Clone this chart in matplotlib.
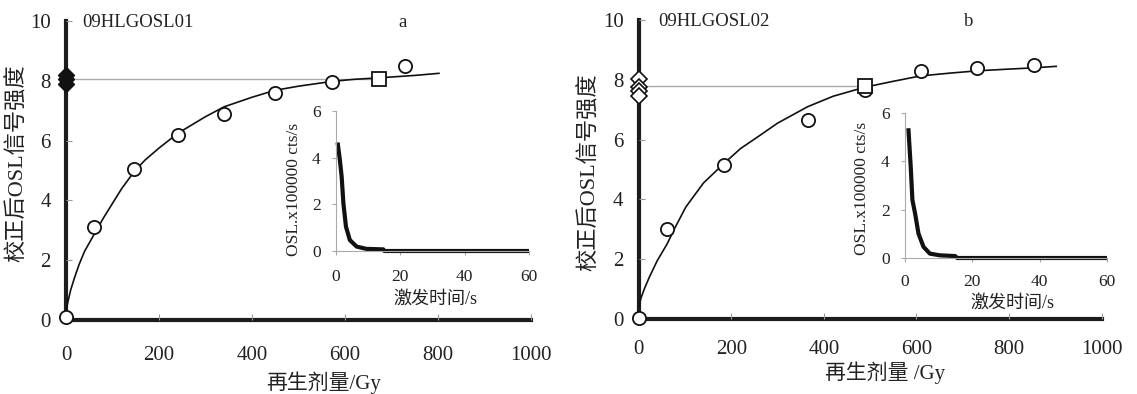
import numpy as np
import matplotlib
matplotlib.use('Agg')
import matplotlib.pyplot as plt

plt.rcParams['font.family'] = ['Liberation Serif', 'Noto Sans CJK SC']

# ---- panel a (09HLGOSL01) ----
a_dose = [0, 60, 146, 241, 340, 449, 572, 730]
a_sig = [0.1, 3.1, 5.05, 6.2, 6.9, 7.6, 7.95, 8.5]
a_nat_dose = 674
a_nat_sig = 8.06
a_nat_axis = [8.2, 8.05, 7.9]
a_fit_dose = [0, 4, 10, 18, 28, 40, 60, 80, 100, 120, 146, 170, 200, 241, 300, 340, 400, 449, 500, 572, 620, 674, 750, 802]
a_fit_sig = [0.3, 0.6, 1.0, 1.4, 1.85, 2.3, 2.85, 3.4, 3.9, 4.4, 4.95, 5.35, 5.75, 6.25, 6.8, 7.13, 7.45, 7.68, 7.82, 7.98, 8.05, 8.1, 8.18, 8.25]
a_decay_t = [0.5, 1.2, 1.76, 2.3, 3.1, 4.3, 6.4, 9.5, 14.7, 15.0, 30, 60]
a_decay_y = [4.65, 3.9, 3.18, 2.04, 1.04, 0.47, 0.19, 0.09, 0.07, 0.0, 0.0, 0.0]

# ---- panel b (09HLGOSL02) ----
b_dose = [0, 61, 184, 365, 488, 609, 731, 853]
b_sig = [0.05, 3.0, 5.15, 6.65, 7.65, 8.3, 8.4, 8.5]
b_nat_dose = 488
b_nat_sig = 7.78
b_nat_axis = [8.02, 7.75, 7.63, 7.45]
b_fit_dose = [0, 5, 12, 23, 40, 61, 80, 102, 140, 184, 220, 258, 300, 365, 420, 488, 550, 609, 670, 731, 790, 853, 902]
b_fit_sig = [0.4, 0.7, 1.0, 1.4, 1.95, 2.5, 3.1, 3.75, 4.55, 5.2, 5.7, 6.1, 6.55, 7.1, 7.45, 7.75, 7.95, 8.13, 8.22, 8.3, 8.35, 8.4, 8.45]
b_decay_t = [1.0, 1.7, 2.2, 3.0, 4.0, 5.5, 7.4, 10.4, 14.9, 15.5, 30, 60]
b_decay_y = [5.37, 3.78, 2.4, 1.84, 1.01, 0.46, 0.18, 0.11, 0.08, 0.0, 0.0, 0.0]

x_ticks = [0, 200, 400, 600, 800, 1000]
y_ticks = [0, 2, 4, 6, 8, 10]
in_x_ticks = [0, 20, 40, 60]
in_y_ticks = [0, 2, 4, 6]

W, H = 1137, 394
fig = plt.figure(figsize=(W / 100, H / 100), dpi=100)
txt_col = '#222222'


def px(l, r, b, t):
    return [l / W, (H - b) / H, (r - l) / W, (b - t) / H]


def ftext(x, y, s, **kw):
    # place text by reference pixel centre
    fig.text(x / W, 1 - y / H, s, ha='center', va='center', color=txt_col, **kw)


def main_panel(rect, dose, sig, fit_x, fit_y, nat_x, nat_y, axis_y, axis_style,
               name, letter, name_x, letter_x, xpad):
    ax = fig.add_axes(rect)
    ax.set_xlim(0, 1000)
    ax.set_ylim(0, 10)
    for s in ['top', 'right']:
        ax.spines[s].set_visible(False)
    for s in ['left', 'bottom']:
        ax.spines[s].set_linewidth(3)
        ax.spines[s].set_color('#1c1c1c')
        ax.spines[s].set_zorder(1)
    ax.set_xticks(x_ticks)
    ax.set_yticks(y_ticks)
    ax.tick_params(axis='both', direction='in', length=4, width=0.8, color='#999999',
                   labelsize=15, labelcolor=txt_col)
    ax.tick_params(axis='x', pad=xpad)
    ax.tick_params(axis='y', pad=11)
    ax.plot([0, nat_x], [nat_y, nat_y], color='#aaaaaa', lw=1, zorder=2)
    ax.plot(fit_x, fit_y, color='#111111', lw=1.2, zorder=3)
    ax.plot(dose, sig, 'o', ms=9.5, mfc='white', mec='#111111', mew=1.3, zorder=4, clip_on=False)
    ax.plot([nat_x], [nat_y], 's', ms=9.5, mfc='white', mec='#111111', mew=1.3, zorder=4)
    for yv in axis_y:
        ax.plot([0], [yv], 'D', clip_on=False, zorder=5, **axis_style)
    ax.text(name_x, 9.95, name, fontsize=13.5, ha='left', va='center', color=txt_col)
    ax.text(letter_x, 9.95, letter, fontsize=13.5, ha='center', va='center', color=txt_col)
    return ax


def inset_panel(rect, t, y, xpad):
    ax = fig.add_axes(rect)
    ax.set_xlim(0, 60)
    ax.set_ylim(0, 6)
    for s in ['top', 'right']:
        ax.spines[s].set_visible(False)
    for s in ['left', 'bottom']:
        ax.spines[s].set_linewidth(0.8)
        ax.spines[s].set_color('#aaaaaa')
    ax.set_xticks(in_x_ticks)
    ax.set_yticks(in_y_ticks)
    ax.tick_params(axis='both', direction='out', length=3, width=0.8, color='#aaaaaa',
                   labelsize=12.5, labelcolor=txt_col)
    ax.tick_params(axis='x', pad=xpad)
    ax.tick_params(axis='y', pad=8)
    ax.plot(t, y, color='#111111', lw=3, solid_capstyle='butt', clip_on=False)
    ax.patch.set_alpha(0)
    return ax


main_panel(px(66, 531, 320, 21), a_dose, a_sig, a_fit_dose, a_fit_sig,
           a_nat_dose, a_nat_sig, a_nat_axis,
           dict(ms=8, mfc='#111111', mec='#111111', mew=1),
           '09HLGOSL01', 'a', 34, 724, 19)
inset_panel(px(336, 529, 251, 111), a_decay_t, a_decay_y, 10)
ftext(324, 383, '再生剂量/Gy', fontsize=15)
ftext(17, 163, '校正后OSL信号强度', fontsize=16, rotation=90)
ftext(435, 299, '激发时间/s', fontsize=13)
ftext(294, 189, 'OSL.x100000 cts/s', fontsize=12.5, rotation=90)

main_panel(px(638.7, 1101.6, 319, 20), b_dose, b_sig, b_fit_dose, b_fit_sig,
           b_nat_dose, b_nat_sig, b_nat_axis,
           dict(ms=8, mfc='white', mec='#111111', mew=1.2),
           '09HLGOSL02', 'b', 43, 713, 15)
inset_panel(px(905, 1107, 258, 113), b_decay_t, b_decay_y, 8.5)
ftext(885, 373, '再生剂量 /Gy', fontsize=15)
ftext(589, 172, '校正后OSL信号强度', fontsize=16, rotation=90)
ftext(1012, 303, '激发时间/s', fontsize=13)
ftext(862, 188, 'OSL.x100000 cts/s', fontsize=12.5, rotation=90)

fig.savefig('out.png', dpi=100)
